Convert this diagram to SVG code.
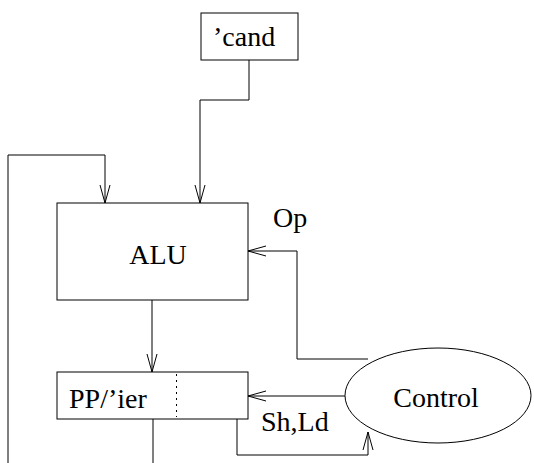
<svg xmlns="http://www.w3.org/2000/svg" width="534" height="463" viewBox="0 0 534 463">
<defs>
<style>
.box{fill:#fff;stroke:#000;stroke-width:1}
.ln{fill:none;stroke:#000;stroke-width:1}
.t{font-family:"Liberation Serif","Times New Roman",serif;font-size:28px;fill:#000}
</style>
<marker id="arr" markerUnits="userSpaceOnUse" markerWidth="24" markerHeight="14" refX="0" refY="0" viewBox="-20 -7 24 14" orient="auto">
<path d="M-18,-5 L0,0 L-18,5" fill="none" stroke="#000" stroke-width="1"/>
</marker>
</defs>
<rect width="534" height="463" fill="#fff"/>
<g id="connectors">
<path class="ln" d="M249,60 V100 H200 V203" marker-end="url(#arr)"/>
<path class="ln" d="M153,419 V475 H8 V155 H105 V203" marker-end="url(#arr)"/>
<path class="ln" d="M152,300 V372" marker-end="url(#arr)"/>
<path class="ln" d="M368,359 H297 V251 H248" marker-end="url(#arr)"/>
<path class="ln" d="M345,396 H248" marker-end="url(#arr)"/>
<path class="ln" d="M237,419 V455 H368 V432" marker-end="url(#arr)"/>
</g>
<g id="cand">
<rect class="box" x="201" y="13" width="97" height="47"/>
<text class="t" x="213" y="46">’cand</text>
</g>
<g id="alu">
<rect class="box" x="57" y="203" width="191" height="97"/>
<text class="t" x="158" y="264" text-anchor="middle">ALU</text>
</g>
<g id="pp">
<rect class="box" x="57" y="372" width="191" height="47"/>
<line x1="176.5" y1="374" x2="176.5" y2="417" stroke="#000" stroke-width="1" stroke-dasharray="2,4"/>
<text class="t" x="69" y="408">PP/’ier</text>
</g>
<g id="control">
<ellipse class="box" cx="438" cy="395.5" rx="93" ry="47.5"/>
<text class="t" x="436" y="407" text-anchor="middle">Control</text>
</g>
<g id="labels">
<text class="t" x="273" y="227">Op</text>
<text class="t" x="261" y="431">Sh,Ld</text>
</g>
</svg>
